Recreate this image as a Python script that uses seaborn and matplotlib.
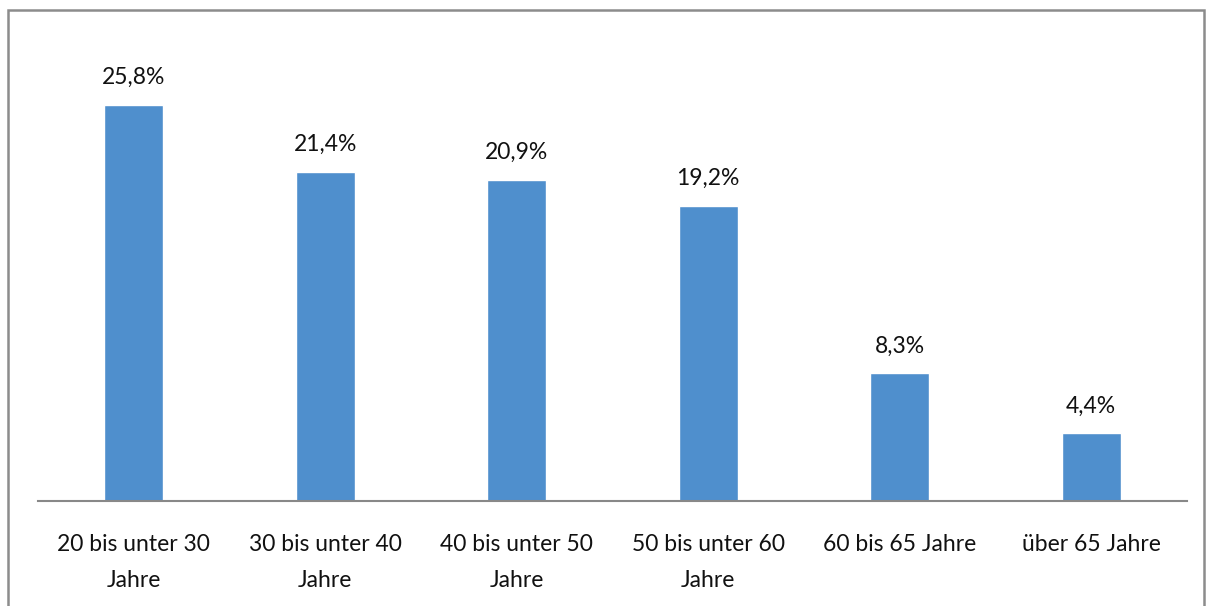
import matplotlib
matplotlib.use("Agg")
import matplotlib.pyplot as plt
import matplotlib.patches as patches
import seaborn as sns
import pandas as pd

# Data
categories = ["20 bis unter 30\nJahre", "30 bis unter 40\nJahre", "40 bis unter 50\nJahre",
              "50 bis unter 60\nJahre", "60 bis 65 Jahre", "über 65 Jahre"]
values = [25.8, 21.4, 20.9, 19.2, 8.3, 4.4]
value_labels = ["25,8%", "21,4%", "20,9%", "19,2%", "8,3%", "4,4%"]

df = pd.DataFrame({"Alter": categories, "Anteil": values})

sns.set_style("white")
plt.rcParams['font.family'] = ['Lato', 'DejaVu Sans']

fig = plt.figure(figsize=(12.07, 6.06), dpi=100)
ax = fig.add_axes([38 / 1207, 105 / 606, 1149 / 1207, 461 / 606])

sns.barplot(data=df, x="Alter", y="Anteil", color="#4F8FCD", saturation=1,
            width=0.31, ax=ax)

ax.set_xlim(-0.5, 5.5)
ax.set_ylim(0, 30)

# value labels above bars
for i, (v, lab) in enumerate(zip(values, value_labels)):
    ax.text(i, v + 1.1, lab, ha="center", va="bottom", fontsize=16.5, color="#111111")

ax.set_xlabel("")
ax.set_ylabel("")
ax.set_yticks([])
ax.tick_params(axis="x", length=0, pad=24, labelsize=16.5, colors="#111111")
for lbl in ax.get_xticklabels():
    lbl.set_linespacing(1.85)
    lbl.set_verticalalignment("top")

for side in ["top", "right", "left"]:
    ax.spines[side].set_visible(False)
ax.spines["bottom"].set_color("#888888")
ax.spines["bottom"].set_linewidth(1.5)

# outer border of the chart area
fig.add_artist(patches.Rectangle((8 / 1207, -0.05), (1204 - 8) / 1207, (596 / 606) + 0.05,
                                 transform=fig.transFigure, fill=False,
                                 edgecolor="#8c8c8c", linewidth=1.8, clip_on=False))

fig.savefig("out.png", dpi=100)
